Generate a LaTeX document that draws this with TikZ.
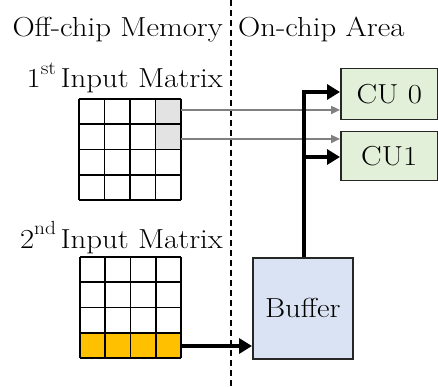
\documentclass[tikz,border=0pt]{standalone}
\usepackage{fontspec}
\setmainfont{Latin Modern Roman}[FakeStretch=1.12]
\usetikzlibrary{arrows.meta,calc}
\definecolor{cugreen}{HTML}{E2F0D9}
\definecolor{bufblue}{HTML}{DAE3F3}
\definecolor{cellgray}{HTML}{E3E3E3}
\definecolor{gold}{HTML}{FFC000}
\definecolor{arrowgray}{HTML}{808080}
\newcommand{\ordsup}[1]{\raisebox{0.5em}{\fontsize{19}{19}\selectfont #1}}
\tikzset{
  lbl/.style={font=\fontsize{27.5}{32}\selectfont, inner sep=0pt},
  unitbox/.style={draw=black!85, line width=1.5pt, inner sep=0pt, font=\fontsize{27.5}{32}\selectfont},
  gridline/.style={draw=black, line width=1.8pt},
  grayarrow/.style={draw=arrowgray, line width=2.4pt, -{Triangle[length=9pt,width=8pt]}},
  blackarrow/.style={draw=black, line width=4.4pt, line join=miter, -{Triangle[length=13pt,width=15pt]}},
}
\begin{document}
\begin{tikzpicture}[x=1pt,y=-1pt]
\useasboundingbox (0,0) rectangle (438,387);
% divider
\draw[line width=1.6pt, dash pattern=on 6pt off 4pt] (231,0) -- (231,387);
% titles
\node[lbl, anchor=base east] (toff) at (223,37) {Off-chip Memory};
\node[lbl, anchor=base west] (ton) at (238,37) {On-chip Area};
\node[lbl, anchor=base east] (l1) at (223,88) {1\ordsup{st}\,Input Matrix};
\node[lbl, anchor=base east] (l2) at (223,248) {2\ordsup{nd}\,Input Matrix};
% matrix 1
\node[inner sep=0pt, minimum width=102pt, minimum height=101pt, anchor=north west] (m1) at (79,99) {};
\fill[cellgray] (155.5,99) rectangle (181,149.5);
\foreach \i in {0,...,4} {
  \draw[gridline] (79+25.5*\i,99) -- (79+25.5*\i,200);
  \draw[gridline] (79,99+25.25*\i) -- (181,99+25.25*\i);
}
% matrix 2
\node[inner sep=0pt, minimum width=101pt, minimum height=101pt, anchor=north west] (m2) at (80,257) {};
\fill[gold] (80,332.75) rectangle (181,358);
\foreach \i in {0,...,4} {
  \draw[gridline] (80+25.25*\i,257) -- (80+25.25*\i,358);
  \draw[gridline] (80,257+25.25*\i) -- (181,257+25.25*\i);
}
% on-chip units
\node[unitbox, fill=cugreen, minimum width=97pt, minimum height=51pt, anchor=north west] (cu0) at (340,68) {CU 0};
\node[unitbox, fill=cugreen, minimum width=97pt, minimum height=49pt, anchor=north west] (cu1) at (340,131) {CU1};
\node[unitbox, fill=bufblue, minimum width=100pt, minimum height=101pt, anchor=north west] (buf) at (252,257) {Buffer};
% gray arrows from first matrix
\coordinate (g0) at (181,110);
\coordinate (g1) at (181,139);
\draw[grayarrow] (g0) -- (g0 -| cu0.west);
\draw[grayarrow] (g1) -- (g1 -| cu1.west);
% black arrows
\coordinate (r4) at (181,346);
\draw[blackarrow] (r4) -- (r4 -| buf.west);
\coordinate (top) at ($(buf.north)+(1,0)$);
\coordinate (c0) at (340,92);
\coordinate (c1) at (340,157);
\draw[blackarrow] (top) |- (c0);
\draw[blackarrow] (top |- c1) -- (c1);
\end{tikzpicture}
\end{document}
